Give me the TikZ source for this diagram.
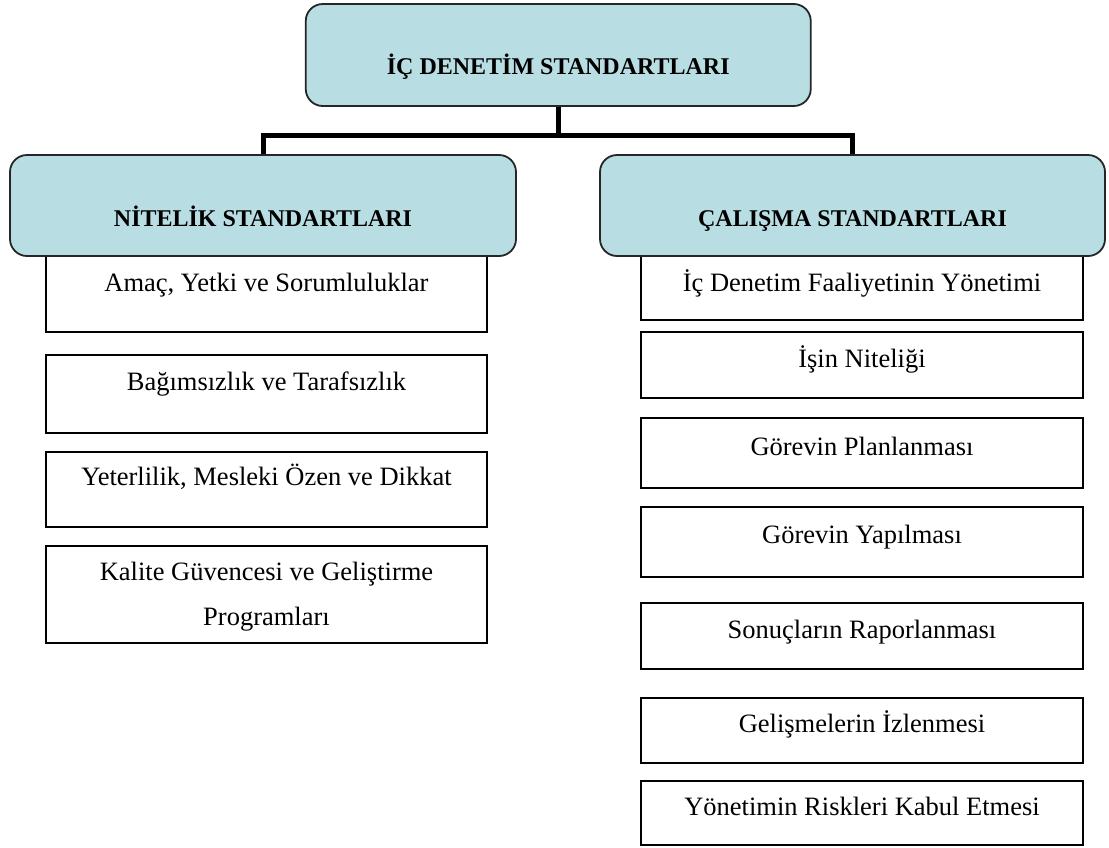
\documentclass[tikz,border=0pt]{standalone}
\usepackage{fontspec}
\setmainfont{Liberation Serif}
\definecolor{headfill}{RGB}{184,222,227}
\begin{document}
\begin{tikzpicture}[x=1pt,y=-1pt,
  headbox/.style={draw=black!85, line width=1.8pt, fill=headfill, rounded corners=17pt, inner sep=0pt},
  subbox/.style={draw=black, line width=2pt, fill=white, inner sep=0pt},
  leftbox/.style={subbox, minimum width=441pt},
  rightbox/.style={subbox, minimum width=442pt},
  headtxt/.style={font=\fontsize{24}{28}\selectfont\bfseries, anchor=base, inner sep=0pt},
  itemtxt/.style={font=\fontsize{26.5}{30}\selectfont, anchor=base, inner sep=0pt},
  link/.style={line width=5pt}]
\useasboundingbox (0,0) rectangle (1109,847);

% second-level items, left column
\node[leftbox, minimum height=87pt] (l1) at (266.5,288.5) {};
\node[leftbox, minimum height=78pt] (l2) at (266.5,394) {};
\node[leftbox, minimum height=75pt] (l3) at (266.5,489.5) {};
\node[leftbox, minimum height=97pt] (l4) at (266.5,594.5) {};

% second-level items, right column
\node[rightbox, minimum height=75pt] (r1) at (862,282.5) {};
\node[rightbox, minimum height=66pt] (r2) at (862,365) {};
\node[rightbox, minimum height=70pt] (r3) at (862,453) {};
\node[rightbox, minimum height=70pt] (r4) at (862,542) {};
\node[rightbox, minimum height=66pt] (r5) at (862,636) {};
\node[rightbox, minimum height=65pt] (r6) at (862,730.5) {};
\node[rightbox, minimum height=64pt] (r7) at (862,813) {};

% headings
\node[headbox, minimum width=505pt, minimum height=102pt] (top) at (558.25,55) {};
\node[headbox, minimum width=506pt, minimum height=101pt] (lhead) at (263,205.5) {};
\node[headbox, minimum width=505pt, minimum height=101pt] (rhead) at (852.5,205.5) {};

% tree connectors
\draw[link] (top.south) -- ++(0,29) -| (lhead.north);
\draw[link] (top.south) -- ++(0,29) -| (rhead.north);

% heading texts
\node[headtxt] (ttop) at (558.25,74.5) {İÇ DENETİM STANDARTLARI};
\node[headtxt] (tl) at (263,226) {NİTELİK STANDARTLARI};
\node[headtxt] (tr) at (852.5,226.5) {ÇALIŞMA STANDARTLARI};

% item texts
\node[itemtxt] (tl1) at (266.5,291) {Amaç, Yetki ve Sorumluluklar};
\node[itemtxt] (tl2) at (266.5,390) {Bağımsızlık ve Tarafsızlık};
\node[itemtxt] (tl3) at (266.5,485) {Yeterlilik, Mesleki Özen ve Dikkat};
\node[font=\fontsize{26.5}{45}\selectfont, align=center, inner sep=0pt] (tl4) at (266.5,597)
  {Kalite Güvencesi ve Geliştirme\\Programları};

\node[itemtxt] (tr1) at (862,291) {İç Denetim Faaliyetinin Yönetimi};
\node[itemtxt] (tr2) at (862,367) {İşin Niteliği};
\node[itemtxt] (tr3) at (862,455) {Görevin Planlanması};
\node[itemtxt] (tr4) at (862,543) {Görevin Yapılması};
\node[itemtxt] (tr5) at (862,638) {Sonuçların Raporlanması};
\node[itemtxt] (tr6) at (862,732) {Gelişmelerin İzlenmesi};
\node[itemtxt] (tr7) at (862,815) {Yönetimin Riskleri Kabul Etmesi};
\end{tikzpicture}
\end{document}
